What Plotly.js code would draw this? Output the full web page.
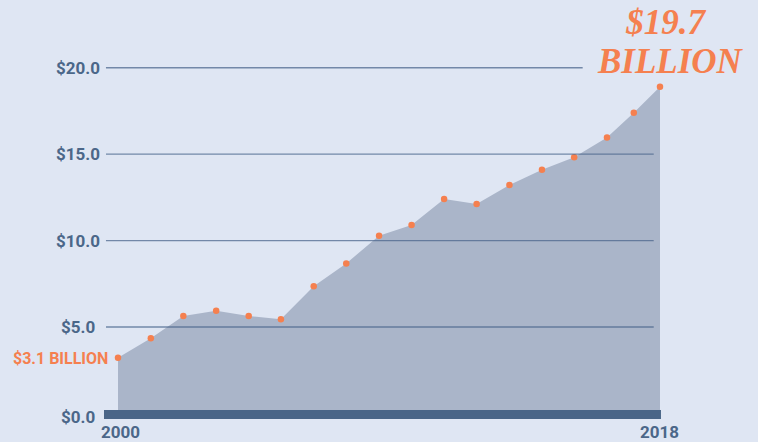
<!DOCTYPE html>
<html>
<head>
<meta charset="utf-8">
<script src="https://cdn.plot.ly/plotly-3.0.1.min.js"></script>
<style>
  html, body { margin: 0; padding: 0; background: #dfe6f3; }
  #chart { width: 758px; height: 442px; }
</style>
</head>
<body>
<div id="chart"></div>
<script>
// Data (x positions in year units, values in $ billions)
const years = [2000, 2001.09, 2002.17, 2003.26, 2004.34, 2005.41, 2006.5, 2007.58, 2008.67,
               2009.75, 2010.83, 2011.91, 2013.0, 2014.08, 2015.15, 2016.24, 2017.13, 2018];
const values = [3.23, 4.35, 5.64, 5.95, 5.64, 5.45, 7.36, 8.68, 10.28,
                10.9, 12.41, 12.12, 13.22, 14.1, 14.82, 15.96, 17.39, 18.9];
const yTickVals = [0, 5, 10, 15, 20];
const yTickText = ['$0.0', '$5.0', '$10.0', '$15.0', '$20.0'];
const xTickVals = [2000, 2018];
const xTickText = ['2000', '2018'];
const startLabel = '$3.1 BILLION';
const endLabelTop = '$19.7';
const endLabelBottom = 'BILLION';

const ORANGE = '#f5804f';
const SLATE = '#4b6789';
const BG = '#dfe6f3';
const AREA = '#aab5c9';
const GRID = 'rgba(74,100,138,0.72)';

const area = {
  x: years, y: values, type: 'scatter', mode: 'lines',
  fill: 'tozeroy', fillcolor: AREA, line: {width: 0, color: AREA},
  hoverinfo: 'skip', showlegend: false
};
const dots = {
  x: years, y: values, type: 'scatter', mode: 'markers',
  marker: {size: 6.5, color: ORANGE}, showlegend: false
};

const shapes = [];
yTickVals.forEach(v => {
  if (v === 0) return;
  shapes.push({
    type: 'line', layer: 'above', xref: 'paper', yref: 'y',
    x0: 0.1398, x1: v === 20 ? 0.7687 : 0.8624, y0: v, y1: v,
    line: {color: GRID, width: 1.4}
  });
});
shapes.push({
  type: 'rect', layer: 'above', xref: 'paper', yref: 'y',
  x0: 0.1372, x1: 0.872, y0: -0.318, y1: 0.202,
  fillcolor: '#4a6587', line: {width: 0}
});

const tickFont = {family: 'Roboto, "Liberation Sans", sans-serif', size: 17, color: SLATE};
const annotations = [];
yTickVals.forEach((v, i) => {
  annotations.push({
    xref: 'paper', yref: 'y', x: 0.1029, y: v, text: '<b>' + yTickText[i] + '</b>',
    showarrow: false, xanchor: 'center', yanchor: 'middle', font: tickFont,
    yshift: v === 0 ? -3 : 0
  });
});
xTickVals.forEach((v, i) => {
  annotations.push({
    xref: 'x', yref: 'paper', x: v, y: 0.0215, text: '<b>' + xTickText[i] + '</b>',
    showarrow: false, xanchor: 'center', yanchor: 'middle', font: tickFont,
    xshift: i === 0 ? 2 : 0
  });
});
annotations.push({
  xref: 'x', yref: 'y', x: years[0], y: values[0], text: '<b>' + startLabel + '</b>',
  showarrow: false, xanchor: 'right', yanchor: 'middle', xshift: -8, yshift: -1,
  font: {family: 'Roboto, "Liberation Sans", sans-serif', size: 16, color: ORANGE}
});
// Big end label: one text block, tight line spacing via a smaller base size
const big = s => '<span style="font-size:35px"><b><i>' + s + '</i></b></span>';
annotations.push({
  xref: 'paper', yref: 'paper', x: 670 / 758, y: 1 - 42 / 442,
  text: big(endLabelTop + '&nbsp;') + '<br>' + big(endLabelBottom),
  showarrow: false, xanchor: 'center', yanchor: 'middle', align: 'center',
  font: {family: '"Liberation Serif", "DejaVu Serif", serif', size: 30, color: ORANGE}
});

const layout = {
  width: 758, height: 442,
  margin: {l: 0, r: 0, t: 0, b: 0},
  paper_bgcolor: BG, plot_bgcolor: BG,
  xaxis: {range: [1996.081, 2021.255], visible: false, fixedrange: true},
  yaxis: {range: [-1.648, 23.915], visible: false, fixedrange: true},
  shapes: shapes, annotations: annotations, showlegend: false,
  hovermode: false
};

Plotly.newPlot('chart', [area, dots], layout, {displayModeBar: false, staticPlot: true});
</script>
</body>
</html>
